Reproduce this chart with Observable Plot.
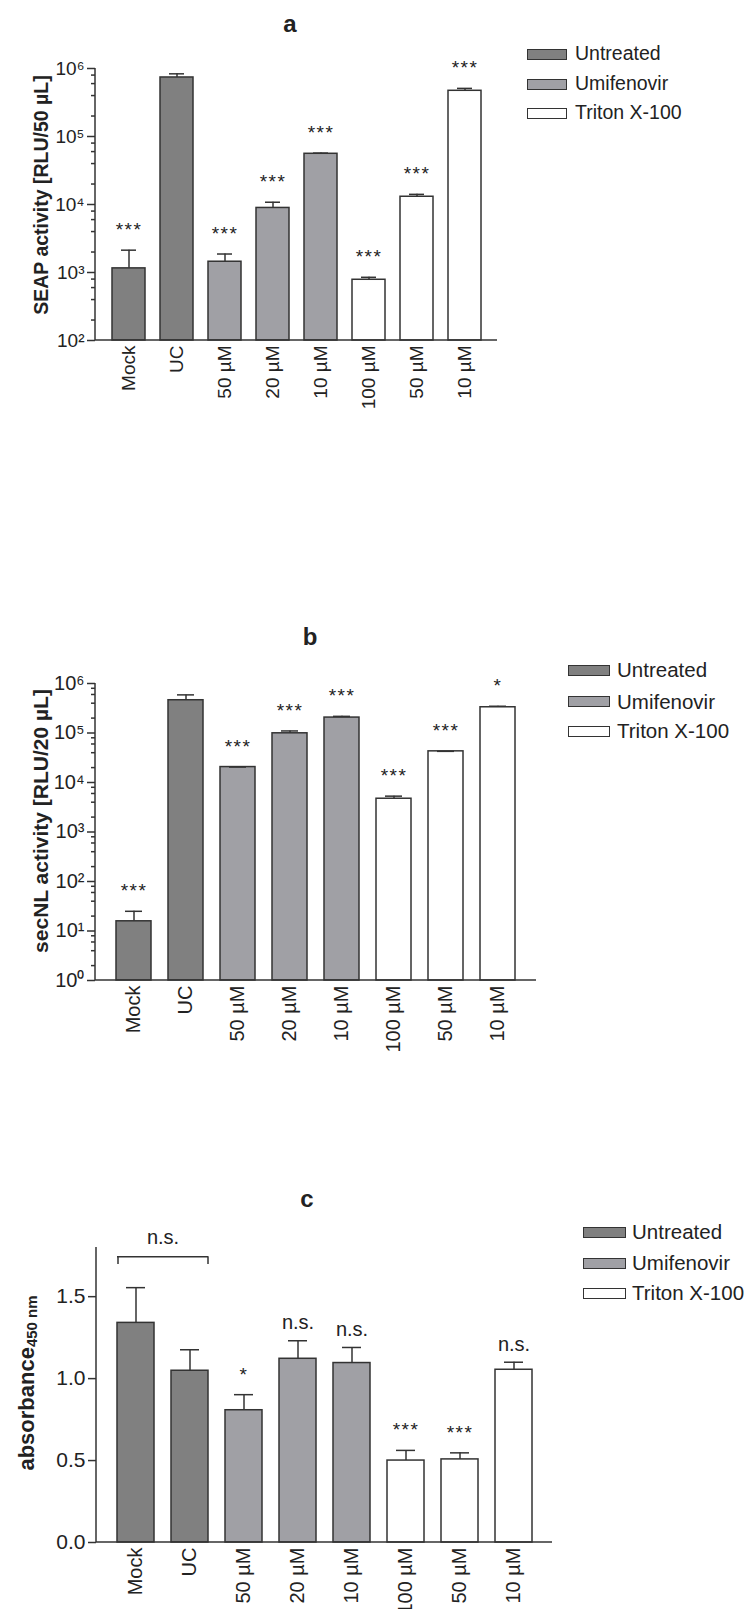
<!DOCTYPE html>
<html>
<head>
<meta charset="utf-8">
<script src="https://cdn.jsdelivr.net/npm/d3@7"></script>
<script src="https://cdn.jsdelivr.net/npm/@observablehq/plot@0.6"></script>
<style>
  html, body { margin: 0; padding: 0; background: #fff; overflow: hidden; }
  #root { position: relative; width: 746px; height: 1609px; overflow: hidden; background: #fff;
          font-family: 'Liberation Sans', Arial, sans-serif; color: #222; }
  .abs { position: absolute; white-space: nowrap; line-height: 1; }
  .center { transform: translate(-50%, -50%); }
  .rot { transform: translate(-50%, -50%) rotate(-90deg); font-weight: bold; }
  .title { font-weight: bold; }
  .sw { position: absolute; box-sizing: border-box; border: 1.5px solid #333; }
  .panel { position: absolute; left: 0; }
  g[aria-description="stars"] text { letter-spacing: 1.5px; }
</style>
</head>
<body>
<div id="root"></div>
<script>
// ---------- data ----------
const barKeys   = ["mock", "uc", "umi50", "umi20", "umi10", "tri100", "tri50", "tri10"];
const barLabels = ["Mock", "UC", "50 µM", "20 µM", "10 µM", "100 µM", "50 µM", "10 µM"];
const barGroups = ["Untreated", "Untreated", "Umifenovir", "Umifenovir", "Umifenovir",
                   "Triton X-100", "Triton X-100", "Triton X-100"];
const groupNames = ["Untreated", "Umifenovir", "Triton X-100"];
const groupFills = ["#808080", "#a0a0a5", "#ffffff"];

// panel a: SEAP activity [RLU/50 µL]
const seapMean  = [1150, 738000, 1440, 8900, 55700, 782, 13000, 470000];
const seapUpper = [2130, 835000, 1870, 10800, 57000, 850, 14100, 510000];
const seapSig   = ["***", "", "***", "***", "***", "***", "***", "***"];
const seapTicks = [1e2, 1e3, 1e4, 1e5, 1e6];

// panel b: secNL activity [RLU/20 µL]
const secnlMean  = [15.7, 459000, 20500, 98600, 205000, 4700, 42600, 331000];
const secnlUpper = [25, 589000, 20500, 110000, 217000, 5300, 42600, 347000];
const secnlSig   = ["***", "", "***", "***", "***", "***", "***", "*"];
const secnlTicks = [1e0, 1e1, 1e2, 1e3, 1e4, 1e5, 1e6];

// panel c: absorbance 450 nm
const absMean  = [1.34, 1.048, 0.807, 1.121, 1.095, 0.500, 0.507, 1.054];
const absUpper = [1.555, 1.176, 0.902, 1.231, 1.190, 0.562, 0.547, 1.100];
const absSig   = ["", "", "*", "n.s.", "n.s.", "***", "***", "n.s."];
const absTicks = [0, 0.5, 1.0, 1.5];
const absBracket = [{from: "mock", to: "uc", top: 1.743, bottom: 1.697, label: "n.s."}];

const minorMultipliers = [2, 4, 6, 8];

// ---------- helpers ----------
const edge = "#333";
const ink = "#222";
const FONT = "'Liberation Sans', Arial, sans-serif";
const labelOf = Object.fromEntries(barKeys.map((k, i) => [k, barLabels[i]]));
const supDigits = "⁰¹²³⁴⁵⁶⁷⁸⁹";
const powFormat = d => "10" + String(Math.round(Math.log10(d))).split("").map(c => supDigits[+c]).join("");
const minorOf = ticks => ticks.slice(0, -1).flatMap(t => minorMultipliers.map(m => t * m));

function rows(mean, upper, sig) {
  return barKeys.map((k, i) => ({key: k, group: barGroups[i], mean: mean[i], upper: upper[i], sig: sig[i]}));
}

// axis lines along the left and bottom edges of the plot frame
function axisLines(index, scales, values, dimensions) {
  const {width, height, marginLeft, marginRight, marginTop, marginBottom} = dimensions;
  const g = d3.create("svg:g").attr("stroke", edge).attr("stroke-width", 1.5).attr("fill", "none");
  g.append("line").attr("x1", marginLeft).attr("x2", marginLeft)
    .attr("y1", marginTop).attr("y2", height - marginBottom);
  g.append("line").attr("x1", marginLeft).attr("x2", width - marginRight)
    .attr("y1", height - marginBottom).attr("y2", height - marginBottom);
  return g.node();
}

function panel(o) {
  const data = o.data;
  const marks = [
    Plot.barY(data, {x: "key", y1: o.yDomain[0], y2: "mean", fill: "group", stroke: edge, strokeWidth: 1.5}),
    Plot.ruleX(data, {x: "key", y1: "mean", y2: "upper", stroke: edge, strokeWidth: 1.5}),
    Plot.tickY(data, {x: "key", y: "upper", stroke: edge, strokeWidth: 1.5, insetLeft: 9, insetRight: 9}),
    Plot.axisY({ticks: o.majorTicks, tickFormat: o.tickFormat, tickSize: 8, tickPadding: 3, label: null,
                stroke: edge, strokeWidth: 1.5, fontSize: o.tickFont}),
    Plot.axisX({tickSize: 0, tickRotate: -90, tickFormat: k => labelOf[k], tickPadding: 5, label: null,
                fontSize: o.xFont}),
    axisLines,
    Plot.text(data.filter(d => d.sig.startsWith("*")),
              {x: "key", y: "upper", text: "sig", dy: -20, fontSize: 19, fill: ink, ariaDescription: "stars"}),
    Plot.text(data.filter(d => d.sig === "n.s."),
              {x: "key", y: "upper", text: "sig", dy: -18, fontSize: 20, fill: ink})
  ];
  if (o.minorTicks) {
    marks.push(Plot.axisY({ticks: o.minorTicks, tickFormat: () => "", tickSize: 4, label: null,
                           stroke: edge, strokeWidth: 1.5}));
  }
  if (o.bracket) {
    marks.push(
      Plot.ruleY(o.bracket, {x1: "from", x2: "to", y: "top", stroke: edge, strokeWidth: 1.5}),
      Plot.ruleX(o.bracket, {x: "from", y1: "bottom", y2: "top", dx: -18, stroke: edge, strokeWidth: 1.5}),
      Plot.ruleX(o.bracket, {x: "to", y1: "bottom", y2: "top", dx: 18, stroke: edge, strokeWidth: 1.5}),
      Plot.text(o.bracket, {x: "from", y: "top", text: "label", dx: 27, dy: -19, fontSize: 20, fill: ink})
    );
  }
  return Plot.plot({
    width: 746, height: o.height,
    marginTop: o.marginTop, marginBottom: o.marginBottom,
    marginLeft: o.marginLeft, marginRight: o.marginRight,
    style: {fontFamily: FONT, color: ink, background: "transparent", overflow: "visible"},
    x: {type: "band", domain: barKeys, paddingInner: 0.32, paddingOuter: 0.33},
    y: {type: o.yType, domain: o.yDomain},
    color: {domain: groupNames, range: groupFills},
    marks
  });
}

const root = document.getElementById("root");
function addPanel(svg, top) {
  const d = document.createElement("div");
  d.className = "panel";
  d.style.top = top + "px";
  d.appendChild(svg);
  root.appendChild(d);
}
function addText(html, x, y, cls, size) {
  const d = document.createElement("div");
  d.className = "abs " + cls;
  d.style.left = x + "px";
  d.style.top = y + "px";
  d.style.fontSize = size + "px";
  d.innerHTML = html;
  root.appendChild(d);
}
function addLegend(x, ys, swW, textX, size) {
  groupNames.forEach((g, i) => {
    const s = document.createElement("div");
    s.className = "sw";
    s.style.left = x + "px";
    s.style.top = (ys[i] - 5.5) + "px";
    s.style.width = swW + "px";
    s.style.height = "11px";
    s.style.background = groupFills[i];
    root.appendChild(s);
    const t = document.createElement("div");
    t.className = "abs";
    t.style.left = textX + "px";
    t.style.top = ys[i] + "px";
    t.style.transform = "translateY(-50%)";
    t.style.fontSize = size + "px";
    t.textContent = g;
    root.appendChild(t);
  });
}

// ---------- panel a ----------
addPanel(panel({
  data: rows(seapMean, seapUpper, seapSig), yType: "log", yDomain: [1e2, 1e6],
  majorTicks: seapTicks, minorTicks: minorOf(seapTicks), tickFormat: powFormat,
  height: 430, marginTop: 68, marginBottom: 90, marginLeft: 95, marginRight: 249,
  tickFont: 19, xFont: 19
}), 0);
addText("a", 290, 24, "center title", 24);
addText("SEAP activity [RLU/50 µL]", 42, 195, "rot", 19.5);
addLegend(527, [54, 84, 113], 40, 575, 19.5);

// ---------- panel b ----------
addPanel(panel({
  data: rows(secnlMean, secnlUpper, secnlSig), yType: "log", yDomain: [1e0, 1e6],
  majorTicks: secnlTicks, minorTicks: minorOf(secnlTicks), tickFormat: powFormat,
  height: 470, marginTop: 83, marginBottom: 90, marginLeft: 95, marginRight: 210,
  tickFont: 20, xFont: 20
}), 600);
addText("b", 310, 637, "center title", 24);
addText("secNL activity [RLU/20 µL]", 40, 821, "rot", 21);
addLegend(568, [670, 701.5, 731], 42, 617, 20.5);

// ---------- panel c ----------
addPanel(panel({
  data: rows(absMean, absUpper, absSig), yType: "linear", yDomain: [0, 1.8],
  majorTicks: absTicks, minorTicks: null, tickFormat: d3.format(".1f"),
  height: 459, marginTop: 97, marginBottom: 67, marginLeft: 96, marginRight: 194,
  tickFont: 21, xFont: 20, bracket: absBracket
}), 1150);
addText("c", 307, 1199, "center title", 24);
addText("absorbance<sub style='font-size:15px;vertical-align:-3px'>450 nm</sub>", 27, 1383, "rot", 22);
addLegend(583, [1232, 1263, 1293], 43, 632, 20.5);
</script>
</body>
</html>
